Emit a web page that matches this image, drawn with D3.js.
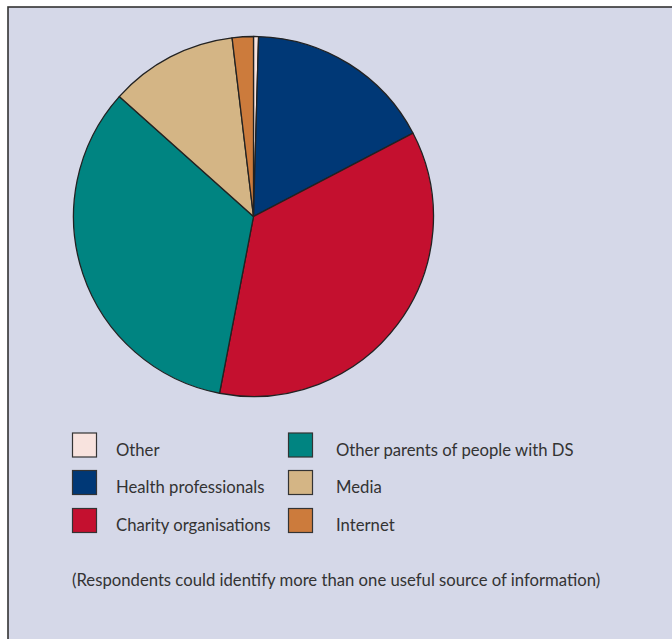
<!DOCTYPE html>
<html><head><meta charset="utf-8">
<script src="https://cdn.jsdelivr.net/npm/d3@7"></script>
<style>html,body{margin:0;padding:0;background:#fff;}svg{display:block;}</style>
</head><body>
<svg id="chart" width="672" height="639"></svg>
<script>
const categories = ["Other", "Health professionals", "Charity organisations", "Other parents of people with DS", "Media", "Internet"];
const values = [0.45, 16.9, 35.7, 33.6, 11.5, 1.9];
const colors = ["#f8e3de", "#003876", "#c4102f", "#008481", "#d4b585", "#cc7b3c"];
const footnote = "(Respondents could identify more than one useful source of information)";
const legendOrder = [[0, 3], [1, 4], [2, 5]];

const svg = d3.select("#chart");
svg.append("rect").attr("x", 8).attr("y", 7).attr("width", 680).attr("height", 650)
  .attr("fill", "#d5d8e8").attr("stroke", "#333").attr("stroke-width", 1.6);

const cx = 253.5, cy = 216.5, r = 180;
const pie = d3.pie().sort(null).startAngle(0).endAngle(2 * Math.PI);
const arc = d3.arc().innerRadius(0).outerRadius(r);
const g = svg.append("g").attr("transform", `translate(${cx},${cy})`);
g.selectAll("path").data(pie(values)).join("path")
  .attr("d", arc).attr("fill", (d, i) => colors[i])
  .attr("stroke", "#222").attr("stroke-width", 1.3).attr("stroke-linejoin", "round");

const font = "Lato, 'Open Sans', sans-serif";
const fs = 16.7;
const colX = [72, 288], textX = [116, 336], rowY = [432.5, 470, 508];
const lg = svg.append("g");
legendOrder.forEach((row, ri) => {
  row.forEach((ci, c) => {
    lg.append("rect").attr("x", colX[c] + 0.5).attr("y", rowY[ri] + 0.5).attr("width", 24).attr("height", 24)
      .attr("fill", colors[ci]).attr("stroke", "#333").attr("stroke-width", 1.2);
    lg.append("text").attr("x", textX[c]).attr("y", rowY[ri] + 23)
      .attr("font-family", font).attr("font-size", fs).attr("fill", "#333")
      .text(categories[ci]);
  });
});
svg.append("text").attr("x", 72).attr("y", 586).attr("font-family", font).attr("font-size", fs)
  .attr("fill", "#333").text(footnote);
</script>
</body></html>
